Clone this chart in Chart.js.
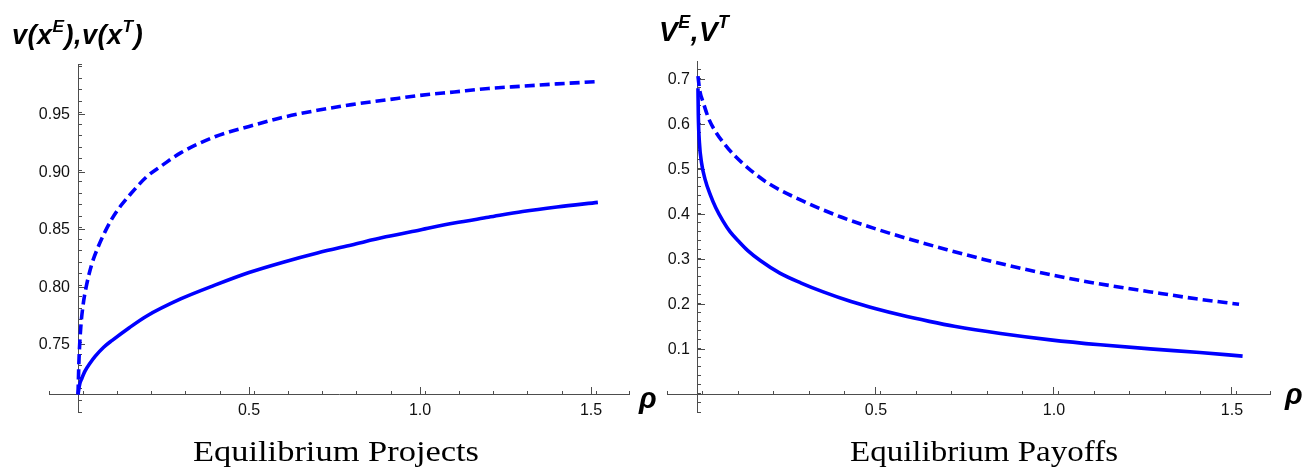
<!DOCTYPE html>
<html><head><meta charset="utf-8">
<script src="https://cdn.jsdelivr.net/npm/chart.js@4/dist/chart.umd.min.js"></script>
<style>
html,body{margin:0;padding:0;background:#fff;}
body{width:1307px;height:467px;position:relative;overflow:hidden;}
canvas{position:absolute;top:0;}
#c1{left:0;} #c2{left:655px;}
.lab{position:absolute;font-family:"Liberation Sans",Arial,sans-serif;font-weight:bold;font-style:italic;color:#000;white-space:nowrap;line-height:1;letter-spacing:0.5px;}
.lab sup{font-size:0.64em;position:relative;top:-0.22em;vertical-align:top;line-height:1;}
.title{position:absolute;font-family:"Liberation Serif","Times New Roman",serif;font-size:29px;color:#000;white-space:nowrap;line-height:1;transform-origin:0 0;}
</style></head>
<body>
<canvas id="c1" width="655" height="467"></canvas>
<canvas id="c2" width="652" height="467"></canvas>
<div class="lab" style="left:12px;top:22px;font-size:27px;">v(x<sup>E</sup>),v(x<sup>T</sup>)</div>
<div class="lab" style="left:659px;top:18px;font-size:28px;">V<sup>E</sup>,V<sup>T</sup></div>
<div class="lab" style="left:639px;top:384px;font-size:29px;">ρ</div>
<div class="lab" style="left:1285px;top:380px;font-size:29px;">ρ</div>
<div class="title" id="t1" data-cx="336" data-w="286" style="top:437px;">Equilibrium Projects</div>
<div class="title" id="t2" data-cx="984" data-w="268" style="top:437px;">Equilibrium Payoffs</div>
<script>
// ---- data ----
// Left panel: Equilibrium Projects
const rhoProjT = [0, 0.003, 0.008, 0.015, 0.025, 0.04, 0.06, 0.08, 0.1, 0.125, 0.15, 0.2, 0.25, 0.3, 0.4, 0.5, 0.6, 0.7, 0.8, 0.9, 1.0, 1.1, 1.2, 1.3, 1.4, 1.52];
const projT    = [0.707, 0.738, 0.765, 0.785, 0.802, 0.820, 0.836, 0.849, 0.860, 0.871, 0.880, 0.896, 0.907, 0.917, 0.931, 0.940, 0.948, 0.954, 0.959, 0.963, 0.967, 0.970, 0.973, 0.975, 0.977, 0.979];
const rhoProjE = [0, 0.005, 0.01, 0.02, 0.035, 0.05, 0.075, 0.1, 0.15, 0.2, 0.3, 0.4, 0.5, 0.6, 0.7, 0.8, 0.9, 1.0, 1.1, 1.2, 1.3, 1.4, 1.52];
const projE    = [0.707, 0.716, 0.720, 0.727, 0.734, 0.740, 0.748, 0.754, 0.765, 0.775, 0.790, 0.802, 0.813, 0.822, 0.830, 0.837, 0.844, 0.850, 0.856, 0.861, 0.866, 0.870, 0.874];
// Right panel: Equilibrium Payoffs
const rhoPayT = [0, 0.005, 0.015, 0.03, 0.05, 0.075, 0.1, 0.15, 0.2, 0.3, 0.4, 0.5, 0.6, 0.7, 0.8, 0.9, 1.0, 1.1, 1.2, 1.3, 1.4, 1.52];
const payT    = [0.707, 0.675, 0.648, 0.613, 0.583, 0.556, 0.533, 0.497, 0.468, 0.428, 0.395, 0.368, 0.344, 0.322, 0.301, 0.282, 0.265, 0.250, 0.237, 0.225, 0.213, 0.201];
const rhoPayE = [0, 0.001, 0.004, 0.01, 0.02, 0.035, 0.05, 0.07, 0.09, 0.115, 0.14, 0.175, 0.23, 0.29, 0.35, 0.43, 0.5, 0.57, 0.65, 0.72, 0.85, 0.99, 1.13, 1.27, 1.41, 1.53];
const payE    = [0.68, 0.62, 0.56, 0.515, 0.478, 0.443, 0.415, 0.386, 0.362, 0.340, 0.320, 0.298, 0.270, 0.248, 0.229, 0.207, 0.191, 0.177, 0.163, 0.152, 0.136, 0.122, 0.111, 0.102, 0.094, 0.086];
// tick labels
const xMajorTicks = [0.5, 1.0, 1.5];
const yMajorTicksProj = [0.75, 0.80, 0.85, 0.90, 0.95];
const yMajorTicksPay = [0.1, 0.2, 0.3, 0.4, 0.5, 0.6, 0.7];

const BLUE = '#0000ff';
const AX = '#4d4d4d';
const TICKFONT = {family: '"Liberation Sans", Arial, sans-serif', size: 16};
function pts(xs, ys) { return xs.map((x, i) => ({x: x, y: ys[i]})); }
function zeroPad(s) { s.paddingTop = 0; s.paddingBottom = 0; s.paddingLeft = 0; s.paddingRight = 0; }

function makeScales(r) {
  const base = {type: 'linear', bounds: 'data', afterFit: zeroPad};
  return {
    x: Object.assign({}, base, {axis: 'x', min: r.xMin, max: r.xMax, position: {y: r.yOrigin},
      grid: {drawOnChartArea: false, tickLength: -4, color: AX, lineWidth: 1},
      border: {display: true, color: AX, width: 1},
      ticks: {stepSize: 0.1, includeBounds: false, autoSkip: false, maxRotation: 0, callback: () => ''}}),
    xMajor: Object.assign({}, base, {axis: 'x', min: r.xMin, max: r.xMax, position: {y: r.yOrigin},
      grid: {drawOnChartArea: false, tickLength: -8, color: AX, lineWidth: 1},
      border: {display: false},
      afterBuildTicks: s => { s.ticks = xMajorTicks.map(v => ({value: v})); },
      ticks: {autoSkip: false, maxRotation: 0, padding: 14, font: TICKFONT, color: '#111',
        callback: v => v.toFixed(1)}}),
    y: Object.assign({}, base, {axis: 'y', min: r.yMin, max: r.yMax, position: {x: 0},
      grid: {drawOnChartArea: false, tickLength: -4, color: AX, lineWidth: 1},
      border: {display: true, color: AX, width: 1},
      ticks: {stepSize: r.yStep, includeBounds: false, autoSkip: false, callback: () => ''}}),
    yMajor: Object.assign({}, base, {axis: 'y', min: r.yMin, max: r.yMax, position: {x: 0},
      grid: {drawOnChartArea: false, tickLength: -7, color: AX, lineWidth: 1},
      border: {display: false},
      afterBuildTicks: s => { s.ticks = r.yMajor.map(v => ({value: v})); },
      ticks: {autoSkip: false, padding: 6, font: TICKFONT, color: '#111',
        callback: v => v.toFixed(r.dec) + '\u2002'}})
  };
}

function makeChart(id, dashData, solidData, r, pad) {
  return new Chart(document.getElementById(id), {
    type: 'line',
    data: {datasets: [
      {data: dashData, borderColor: BLUE, borderWidth: 3.6, borderDash: [10, 5], pointRadius: 0,
       cubicInterpolationMode: 'monotone', fill: false, xAxisID: 'x', yAxisID: 'y'},
      {data: solidData, borderColor: BLUE, borderWidth: 3.6, pointRadius: 0,
       cubicInterpolationMode: 'monotone', fill: false, xAxisID: 'x', yAxisID: 'y'}
    ]},
    options: {
      responsive: false, animation: false, devicePixelRatio: 1,
      layout: {padding: pad},
      plugins: {legend: {display: false}, tooltip: {enabled: false}, title: {display: false}},
      scales: makeScales(r)
    }
  });
}

makeChart('c1', pts(rhoProjT, projT), pts(rhoProjE, projE),
  {xMin: -0.0848, xMax: 1.611, yMin: 0.6917, yMax: 0.9943, yOrigin: 0.7065, yStep: 0.01, yMajor: yMajorTicksProj, dec: 2},
  {left: 49, top: 64, right: 26, bottom: 55});
makeChart('c2', pts(rhoPayT, payT), pts(rhoPayE, payE),
  {xMin: -0.087, xMax: 1.607, yMin: -0.038, yMax: 0.7405, yOrigin: 0, yStep: 0.02, yMajor: yMajorTicksPay, dec: 1},
  {left: 12, top: 61, right: 37, bottom: 55});

// fit the serif captions to the reference widths
document.querySelectorAll('.title').forEach(el => {
  const w = el.getBoundingClientRect().width;
  const target = +el.dataset.w;
  el.style.left = (+el.dataset.cx - target / 2) + 'px';
  el.style.transform = 'scaleX(' + (target / w) + ')';
});
</script>
</body></html>
